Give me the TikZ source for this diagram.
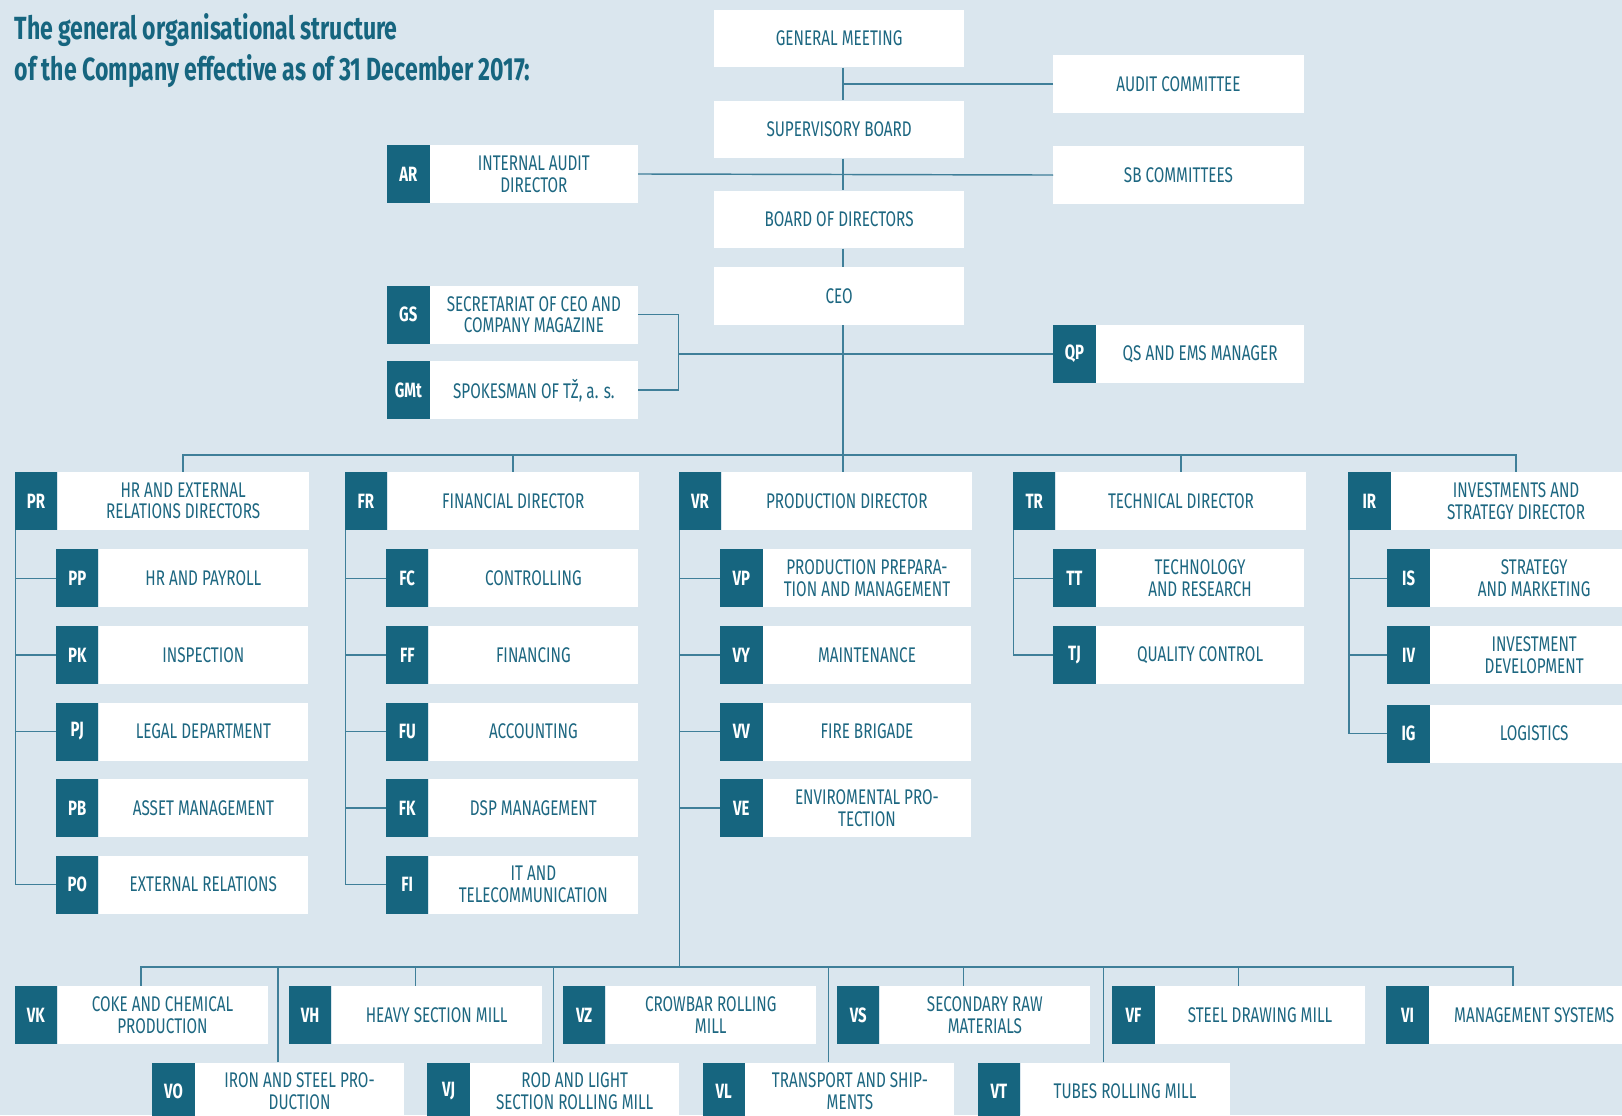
\documentclass[tikz,border=0pt]{standalone}
\usepackage{fontspec}
\newfontfamily\orgfont[FakeStretch=0.72]{Fira Sans}
\usetikzlibrary{positioning,calc}

\definecolor{bgblue}{HTML}{DAE6EE}
\definecolor{darkteal}{HTML}{16657F}
\definecolor{textteal}{HTML}{1D6781}
\definecolor{lineteal}{HTML}{3F7F99}

\tikzset{
  codebox/.style={fill=darkteal, text=white, anchor=north west, minimum width=41pt,
    minimum height=56pt, inner sep=0pt, font=\orgfont\bfseries\fontsize{20}{21}\selectfont},
  labelbox/.style={fill=white, text=textteal, minimum height=56pt, inner sep=0pt,
    align=center, font=\orgfont\fontsize{20.5}{21}\selectfont},
  plainbox/.style={labelbox, anchor=north west, minimum width=242pt},
  link/.style={draw=lineteal, line width=1.4pt},
  title/.style={text=darkteal, anchor=north west, inner sep=0pt, align=left,
    font=\orgfont\bfseries\fontsize{31}{39}\selectfont},
}

% code box + label box, coordinate on top centre of the pair
\newcommand{\orgunit}[6]{%
  \node[codebox] (#1c) at (#3,#4) {#2};
  \node[labelbox, minimum width=#5, right=0pt of #1c] (#1) {#6};
  \coordinate (#1t) at ($(#1c.north west)!.5!(#1.north east)$);
}

\begin{document}
\begin{tikzpicture}[x=1pt,y=-1pt]
  \fill[bgblue] (0,0) rectangle (1568,1078);
  \useasboundingbox (0,0) rectangle (1568,1078);

  \node[title] (title) at (14,13) {The general organisational structure\\of the Company effective as of 31 December 2017:};

  % governing bodies
  \node[plainbox] (gm) at (690,9) {GENERAL MEETING};
  \node[plainbox] (ac) at (1018,53) {AUDIT COMMITTEE};
  \node[plainbox] (sb) at (690,97) {SUPERVISORY BOARD};
  \node[plainbox] (sbc) at (1018,141) {SB COMMITTEES};
  \node[plainbox] (bod) at (690,184) {BOARD OF DIRECTORS};
  \node[plainbox] (ceo) at (690,258) {CEO};
  \orgunit{ar}{AR}{374}{140}{201pt}{INTERNAL AUDIT\\DIRECTOR}
  \orgunit{gs}{GS}{374}{276}{201pt}{SECRETARIAT OF CEO AND\\COMPANY MAGAZINE}
  \orgunit{gmt}{GMt}{374}{349}{201pt}{SPOKESMAN OF TŽ, a. s.}
  \orgunit{qp}{QP}{1018}{314}{201pt}{QS AND EMS MANAGER}

  % directors
  \orgunit{pr}{PR}{14}{456}{243pt}{HR AND EXTERNAL\\RELATIONS DIRECTORS}
  \orgunit{fr}{FR}{333}{456}{243pt}{FINANCIAL DIRECTOR}
  \orgunit{vr}{VR}{656}{456}{242pt}{PRODUCTION DIRECTOR}
  \orgunit{tr}{TR}{979}{456}{242pt}{TECHNICAL DIRECTOR}
  \orgunit{ir}{IR}{1303}{456}{242pt}{INVESTMENTS AND\\STRATEGY DIRECTOR}

  % HR column
  \orgunit{pp}{PP}{54}{531}{202pt}{HR AND PAYROLL}
  \orgunit{pk}{PK}{54}{605}{202pt}{INSPECTION}
  \orgunit{pj}{PJ}{54}{679}{202pt}{LEGAL DEPARTMENT}
  \orgunit{pb}{PB}{54}{753}{202pt}{ASSET MANAGEMENT}
  \orgunit{po}{PO}{54}{827}{202pt}{EXTERNAL RELATIONS}

  % finance column
  \orgunit{fc}{FC}{373}{531}{202pt}{CONTROLLING}
  \orgunit{ff}{FF}{373}{605}{202pt}{FINANCING}
  \orgunit{fu}{FU}{373}{679}{202pt}{ACCOUNTING}
  \orgunit{fk}{FK}{373}{753}{202pt}{DSP MANAGEMENT}
  \orgunit{fi}{FI}{373}{827}{202pt}{IT AND\\TELECOMMUNICATION}

  % production column
  \orgunit{vp}{VP}{696}{531}{201pt}{PRODUCTION PREPARA-\\TION AND MANAGEMENT}
  \orgunit{vy}{VY}{696}{605}{201pt}{MAINTENANCE}
  \orgunit{vv}{VV}{696}{679}{201pt}{FIRE BRIGADE}
  \orgunit{ve}{VE}{696}{753}{201pt}{ENVIROMENTAL PRO-\\TECTION}

  % technical column
  \orgunit{tt}{TT}{1018}{531}{201pt}{TECHNOLOGY\\AND RESEARCH}
  \orgunit{tj}{TJ}{1018}{605}{201pt}{QUALITY CONTROL}

  % investments column
  \orgunit{is}{IS}{1341}{531}{201pt}{STRATEGY\\AND MARKETING}
  \orgunit{iv}{IV}{1341}{605}{201pt}{INVESTMENT\\DEVELOPMENT}
  \orgunit{ig}{IG}{1341}{681}{201pt}{LOGISTICS}

  % plants
  \orgunit{vk}{VK}{14}{953}{203pt}{COKE AND CHEMICAL\\PRODUCTION}
  \orgunit{vh}{VH}{279}{953}{203pt}{HEAVY SECTION MILL}
  \orgunit{vz}{VZ}{544}{953}{203pt}{CROWBAR ROLLING\\MILL}
  \orgunit{vs}{VS}{809}{953}{203pt}{SECONDARY RAW\\MATERIALS}
  \orgunit{vf}{VF}{1075}{953}{203pt}{STEEL DRAWING MILL}
  \orgunit{vi}{VI}{1340}{953}{203pt}{MANAGEMENT SYSTEMS}
  \orgunit{vo}{VO}{147}{1027}{202pt}{IRON AND STEEL PRO-\\DUCTION}
  \orgunit{vj}{VJ}{413}{1027}{202pt}{ROD AND LIGHT\\SECTION ROLLING MILL}
  \orgunit{vl}{VL}{679}{1027}{202pt}{TRANSPORT AND SHIP-\\MENTS}
  \orgunit{vt}{VT}{945}{1027}{202pt}{TUBES ROLLING MILL}

  % trunk
  \coordinate (trunk) at (815,0);
  \draw[link] (gm.south -| trunk) -- (sb.north -| trunk);
  \draw[link] (sb.south -| trunk) -- (bod.north -| trunk);
  \draw[link] (bod.south -| trunk) -- (ceo.north -| trunk);
  \draw[link] (ceo.south -| trunk) -- (vr.north -| trunk);
  \draw[link] (ac.west) -- (ac.west -| trunk);
  \draw[link] (ar.east) -- (sbc.west);
  \draw[link] (gs.east) -- ++(39,0) coordinate (brk) |- (gmt.east);
  \draw[link] (qpc.west) -- (qpc.west -| brk);

  % bus to directors
  \coordinate (bus) at (0,440);
  \draw[link] (pr.north) |- (ir.north |- bus) -- (ir.north);
  \draw[link] (fr.north) -- (fr.north |- bus);
  \draw[link] (tr.north) -- (tr.north |- bus);

  % HR branches
  \coordinate (prl) at ([xshift=1pt]prc.south west);
  \draw[link] (prl) |- (poc.west);
  \draw[link] (ppc.west) -- (ppc.west -| prl);
  \draw[link] (pkc.west) -- (pkc.west -| prl);
  \draw[link] (pjc.west) -- (pjc.west -| prl);

  % finance branches
  \coordinate (frl) at ([xshift=1pt]frc.south west);
  \draw[link] (frl) |- (fic.west);
  \draw[link] (fcc.west) -- (fcc.west -| frl);
  \draw[link] (ffc.west) -- (ffc.west -| frl);
  \draw[link] (fuc.west) -- (fuc.west -| frl);
  \draw[link] (fkc.west) -- (fkc.west -| frl);

  % production branches
  \coordinate (vrl) at ([xshift=1pt]vrc.south west);
  \coordinate (lowbus) at (0,935);
  \draw[link] (vrl) -- (vrl |- lowbus);
  \draw[link] (vpc.west) -- (vpc.west -| vrl);
  \draw[link] (vyc.west) -- (vyc.west -| vrl);
  \draw[link] (vvc.west) -- (vvc.west -| vrl);
  \draw[link] (vec.west) -- (vec.west -| vrl);

  % technical branches
  \coordinate (trl) at ([xshift=1pt]trc.south west);
  \draw[link] (trl) |- (tjc.west);
  \draw[link] (ttc.west) -- (ttc.west -| trl);

  % investments branches
  \coordinate (irl) at ([xshift=1pt]irc.south west);
  \draw[link] (irl) |- (igc.west);
  \draw[link] (isc.west) -- (isc.west -| irl);
  \draw[link] (ivc.west) -- (ivc.west -| irl);

  % plants bus
  \draw[link] (vkt) |- (vit |- lowbus) -- (vit);
  \draw[link] (vht) -- (vht |- lowbus);
  \draw[link] (vst) -- (vst |- lowbus);
  \draw[link] (vft) -- (vft |- lowbus);
  \draw[link] (vot) -- (vot |- lowbus);
  \draw[link] (vjt) -- (vjt |- lowbus);
  \draw[link] (vlt) -- (vlt |- lowbus);
  \draw[link] (vtt) -- (vtt |- lowbus);
\end{tikzpicture}
\end{document}
